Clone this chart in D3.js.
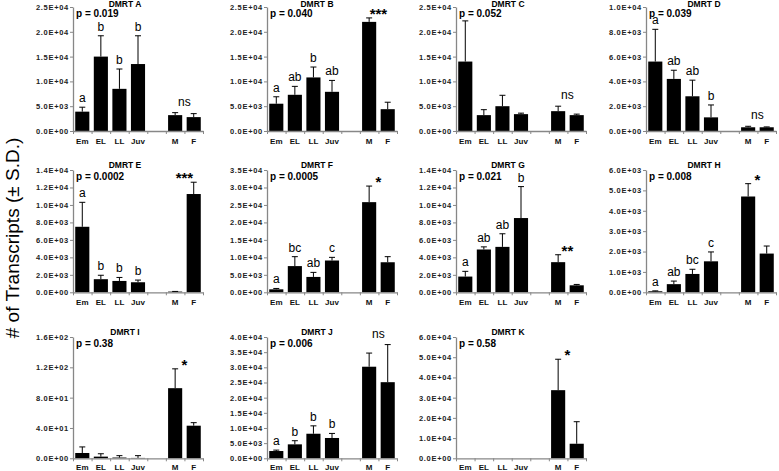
<!DOCTYPE html>
<html><head><meta charset="utf-8">
<script src="https://cdn.jsdelivr.net/npm/d3@7"></script>
<style>body{margin:0;background:#fff} svg{display:block}</style>
</head><body><svg id="c" width="779" height="471"></svg>
<script>
// ---------- data ----------
const categories = ["Em","EL","LL","Juv","M","F"];
const slots = ["Em","EL","LL","Juv","gap","M","F"];
const geneNames = ["DMRT A","DMRT B","DMRT C","DMRT D","DMRT E","DMRT F","DMRT G","DMRT H","DMRT I","DMRT J","DMRT K"];
const pLabels = ["p = 0.019","p = 0.040","p = 0.052","p = 0.039","p = 0.0002","p = 0.0005","p = 0.021","p = 0.008","p = 0.38","p = 0.006","p = 0.58"];
const sexMarks = ["ns","***","ns","ns","***","*","**","*","*","ns","*"];

const meanA = [3900,15000,8500,13500,3200,2800];
const sdA   = [900,4200,4000,5700,500,700];
const lettersA = ["a","b","b","b"];
const meanB = [5500,7300,10800,7900,22000,4400];
const sdB   = [1400,1700,2100,2300,800,1400];
const lettersB = ["a","ab","b","ab"];
const meanC = [14000,3200,5000,3400,4000,3200];
const sdC   = [8200,1100,2200,200,1000,200];
const lettersC = [];
const meanD = [5600,4200,2800,1100,300,300];
const sdD   = [2600,700,1300,1000,80,30];
const lettersD = ["a","ab","ab","b"];
const meanE = [7500,1500,1300,1150,80,11250];
const sdE   = [2800,450,400,250,20,1350];
const lettersE = ["a","b","b","b"];
const meanF = [850,7500,4400,9100,25800,8600];
const sdF   = [250,2700,1300,900,4600,1600];
const lettersF = ["a","bc","ab","c"];
const meanG = [1800,4900,5200,8500,3450,800];
const sdG   = [600,300,1500,3600,850,100];
const lettersG = ["a","ab","ab","b"];
const meanH = [50,400,900,1520,4700,1900];
const sdH   = [20,150,230,460,630,370];
const lettersH = ["a","ab","bc","c"];
const meanI = [7,2.2,1,0.5,92.5,43];
const sdI   = [8,3.8,2.5,3,25.5,4];
const lettersI = [];
const meanJ = [2400,4600,8100,6700,30200,25100];
const sdJ   = [300,1200,2600,1500,4500,12400];
const lettersJ = ["a","b","b","b"];
const meanK = [0,0,0,0,33700,7200];
const sdK   = [0,0,0,0,15300,10900];
const lettersK = [];

const ticksA = [0,5000,10000,15000,20000,25000];
const ticksB = [0,5000,10000,15000,20000,25000];
const ticksC = [0,5000,10000,15000,20000,25000];
const ticksD = [0,2000,4000,6000,8000,10000];
const ticksE = [0,2000,4000,6000,8000,10000,12000,14000];
const ticksF = [0,5000,10000,15000,20000,25000,30000,35000];
const ticksG = [0,2000,4000,6000,8000,10000,12000,14000];
const ticksH = [0,1000,2000,3000,4000,5000,6000];
const ticksI = [0,40,80,120,160];
const ticksJ = [0,5000,10000,15000,20000,25000,30000,35000,40000];
const ticksK = [0,10000,20000,30000,40000,50000,60000];

const yLabel = "# of Transcripts (\u00B1 S.D.)";

const meansAll = [meanA,meanB,meanC,meanD,meanE,meanF,meanG,meanH,meanI,meanJ,meanK];
const sdsAll = [sdA,sdB,sdC,sdD,sdE,sdF,sdG,sdH,sdI,sdJ,sdK];
const lettersAll = [lettersA,lettersB,lettersC,lettersD,lettersE,lettersF,lettersG,lettersH,lettersI,lettersJ,lettersK];
const ticksAll = [ticksA,ticksB,ticksC,ticksD,ticksE,ticksF,ticksG,ticksH,ticksI,ticksJ,ticksK];

// ---------- layout ----------
const FONT = "'Liberation Sans', Arial, Helvetica, sans-serif";
const colX = [73,267,456,646];
const titleOff = [52,50,52,58];
const rowTop = [7,170,337];
const rowBottom = [131,292.3,458.3];
const titleY = [7.3,167.5,335];
const plotW = 130;
const axisColor = "#878787";

function sci(v){
  if (v === 0) return "0.0E+00";
  let e = Math.floor(Math.log10(v) + 1e-9);
  let m = v / Math.pow(10,e);
  return m.toFixed(1) + "E" + (e<0?"-":"+") + String(Math.abs(e)).padStart(2,"0");
}

const svg = d3.select("#c");
svg.append("rect").attr("width",779).attr("height",471).attr("fill","#fff");

geneNames.forEach((name,i)=>{
  const col = i%4, row = Math.floor(i/4);
  const top = rowTop[row], bottom = rowBottom[row];
  const g = svg.append("g").attr("transform",`translate(${colX[col]},0)`);
  const ticks = ticksAll[i];
  const x = d3.scaleBand().domain(slots).range([0,plotW]).paddingInner(0.24).paddingOuter(0.12);
  const xb = d3.scaleLinear().domain([0,slots.length]).range([0,plotW]);
  const y = d3.scaleLinear().domain([0,d3.max(ticks)]).range([bottom,top]);
  const data = categories.map((c,k)=>({c, m: meansAll[i][k], s: sdsAll[i][k], l: lettersAll[i][k]}));

  // bars
  g.selectAll("rect.bar").data(data).join("rect")
    .attr("x",d=>x(d.c)).attr("width",x.bandwidth())
    .attr("y",d=>y(d.m)).attr("height",d=>Math.max(0,y(0)-y(d.m)))
    .style("fill","#000");

  // error bars
  const eb = data.filter(d=>d.s>0);
  g.selectAll("line.ev").data(eb).join("line")
    .attr("x1",d=>x(d.c)+x.bandwidth()/2).attr("x2",d=>x(d.c)+x.bandwidth()/2)
    .attr("y1",d=>y(d.m)).attr("y2",d=>y(d.m+d.s))
    .style("stroke","#000").attr("stroke-width",1);
  g.selectAll("line.ec").data(eb).join("line")
    .attr("x1",d=>x(d.c)+x.bandwidth()/2-3).attr("x2",d=>x(d.c)+x.bandwidth()/2+3)
    .attr("y1",d=>y(d.m+d.s)).attr("y2",d=>y(d.m+d.s))
    .style("stroke","#000").attr("stroke-width",1);

  // y axis
  const ya = g.append("g").call(d3.axisLeft(y).tickValues(ticks).tickFormat(sci).tickSize(3).tickSizeOuter(0).tickPadding(1));
  ya.select(".domain").attr("stroke",axisColor).attr("stroke-width",1.3);
  ya.selectAll(".tick line").attr("stroke",axisColor).attr("stroke-width",1);
  ya.selectAll(".tick text").attr("font-family",FONT).attr("font-size",7.5).attr("font-weight","bold")
    .attr("letter-spacing",0.7).style("fill","#222");

  // x axis boundary ticks
  const xa = g.append("g").attr("transform",`translate(0,${bottom})`)
    .call(d3.axisBottom(xb).tickValues(d3.range(0,slots.length+1)).tickFormat("").tickSize(3).tickSizeOuter(0));
  xa.select(".domain").attr("stroke",axisColor).attr("stroke-width",1.3);
  xa.selectAll(".tick line").attr("stroke",axisColor).attr("stroke-width",1);

  // category labels
  g.selectAll("text.cat").data(categories).join("text")
    .attr("x",c=>x(c)+x.bandwidth()/2).attr("y",Math.min(bottom+12.5,470))
    .attr("text-anchor","middle").attr("font-family",FONT).attr("font-size",8).attr("font-weight","bold")
    .style("fill","#111").text(c=>c);

  // group letters
  g.selectAll("text.let").data(data.filter(d=>d.l)).join("text")
    .attr("x",d=>x(d.c)+x.bandwidth()/2).attr("y",d=>y(d.m+d.s)-5)
    .attr("text-anchor","middle").attr("font-family",FONT).attr("font-size",12)
    .style("fill","#000").text(d=>d.l);

  // sex comparison mark
  const mk = sexMarks[i];
  const topMF = d3.max(data.slice(4),d=>d.m+d.s);
  const cx = (x("M")+x("F")+x.bandwidth())/2;
  const isNs = mk==="ns";
  g.append("text").attr("x",cx).attr("y",isNs? y(topMF)-7 : y(topMF)+1)
    .attr("text-anchor","middle").attr("font-family",FONT)
    .attr("font-size",isNs?12:15).attr("font-weight",isNs?"normal":"bold")
    .style("fill","#000").text(mk);

  // title & p value
  g.append("text").attr("x",titleOff[col]).attr("y",titleY[row]).attr("text-anchor","middle")
    .attr("font-family",FONT).attr("font-size",8.5).attr("font-weight","bold").style("fill","#000").text(name);
  g.append("text").attr("x",3).attr("y",top+9.5)
    .attr("font-family",FONT).attr("font-size",10).attr("font-weight","bold").style("fill","#000").text(pLabels[i]);
});

svg.append("text").attr("transform","translate(19,238) rotate(-90)")
  .attr("text-anchor","middle").attr("font-family",FONT).attr("font-size",19).style("fill","#000").text(yLabel);
</script></body></html>
